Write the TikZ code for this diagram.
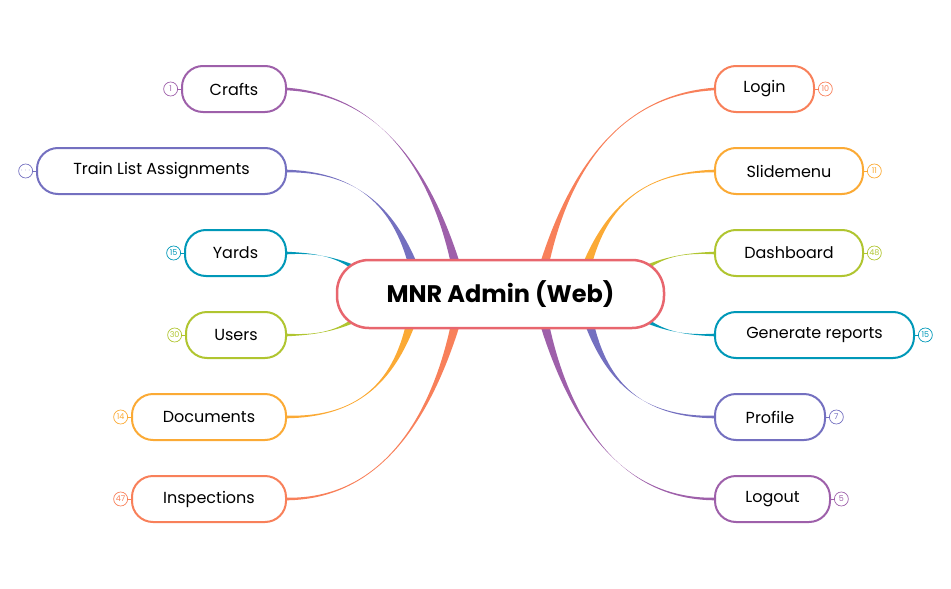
\documentclass[tikz,border=0pt]{standalone}
\usepackage{fontspec}
\setmainfont{Poppins}
\usetikzlibrary{positioning,calc}
\definecolor{cPurple}{HTML}{9E60AA}
\definecolor{cViolet}{HTML}{7470C0}
\definecolor{cTeal}{HTML}{0098B8}
\definecolor{cGreen}{HTML}{B0C530}
\definecolor{cOrange}{HTML}{FBAA35}
\definecolor{cCoral}{HTML}{F8805A}
\definecolor{cRed}{HTML}{E8666E}
\newcommand\branch[5]{% colour, start, ctrl1, ctrl2, end
\fill[#1] ($(#2)+(-4.5,0)$) .. controls #3 and #4 .. ($(#5)+(0,-1.3)$)
  -- ($(#5)+(0,1.3)$) .. controls #4 and #3 .. ($(#2)+(4.5,0)$) -- cycle;
}
\begin{document}
\begin{tikzpicture}[x=1pt,y=-1pt,
  topic/.style={draw=#1,line width=2pt,rounded corners=21pt,minimum height=46pt,
    font=\fontsize{16}{18}\selectfont,fill=white,inner xsep=10pt},
  badge/.style={draw=#1,circle,line width=0.7pt,minimum size=14pt,inner sep=0pt,
    text=#1,font=\fontsize{8}{8}\selectfont}]
  \useasboundingbox (0,0) rectangle (951,589);
  %% branches behind the nodes
  \branch{cPurple}{455,262}{(430,170)}{(380,95)}{287,89}
  \branch{cViolet}{412,262}{(390,200)}{(350,172)}{287,171}
  \branch{cTeal}{352,266}{(330,255)}{(310,253)}{287,253}
  \branch{cGreen}{352,322}{(330,333)}{(310,335)}{287,335}
  \branch{cOrange}{410,326}{(390,390)}{(350,417)}{287,417}
  \branch{cCoral}{455,326}{(430,420)}{(380,499)}{287,499}
  \branch{cCoral}{545,262}{(570,170)}{(620,95)}{714,89}
  \branch{cOrange}{588,262}{(610,200)}{(650,172)}{714,171}
  \branch{cGreen}{648,266}{(670,255)}{(690,253)}{714,253}
  \branch{cTeal}{648,322}{(670,333)}{(690,335)}{714,335}
  \branch{cViolet}{590,326}{(610,390)}{(650,417)}{714,417}
  \branch{cPurple}{545,326}{(570,420)}{(620,499)}{714,499}
  %% central topic
  \node[topic=cRed,line width=2.5pt,minimum width=327pt,minimum height=68pt,rounded corners=32pt,
    font=\fontsize{24}{28}\selectfont\bfseries] (main) at (500.5,294) {MNR Admin (Web)};
  %% left topics
  \node[topic=cPurple,minimum width=104pt,anchor=east] (crafts) at (287,89) {Crafts};
  \node[topic=cViolet,minimum width=249pt,anchor=east] (train) at (287,171) {Train List Assignments};
  \node[topic=cTeal,minimum width=101pt,anchor=east] (yards) at (287,253) {Yards};
  \node[topic=cGreen,minimum width=100pt,anchor=east] (users) at (287,335) {Users};
  \node[topic=cOrange,minimum width=154pt,anchor=east] (docs) at (287,417) {Documents};
  \node[topic=cCoral,minimum width=154pt,anchor=east] (insp) at (287,499) {Inspections};
  %% right topics
  \node[topic=cCoral,minimum width=99pt,anchor=west] (login) at (714,89) {Login};
  \node[topic=cOrange,minimum width=148pt,anchor=west] (slide) at (714,171) {Slidemenu};
  \node[topic=cGreen,minimum width=148pt,anchor=west] (dash) at (714,253) {Dashboard};
  \node[topic=cTeal,minimum width=199pt,anchor=west] (reports) at (714,335) {Generate reports};
  \node[topic=cViolet,minimum width=110pt,anchor=west] (profile) at (714,417) {Profile};
  \node[topic=cPurple,minimum width=115pt,anchor=west] (logout) at (714,499) {Logout};
  %% badges
  \node[badge=cPurple,left=3pt of crafts] (bcrafts) {1};
  \node[badge=cViolet,left=3pt of train] (btrain) {$\cdots$};
  \node[badge=cTeal,left=3pt of yards] (byards) {15};
  \node[badge=cGreen,left=3pt of users] (busers) {30};
  \node[badge=cOrange,left=3pt of docs] (bdocs) {14};
  \node[badge=cCoral,left=3pt of insp] (binsp) {47};
  \node[badge=cCoral,right=3pt of login] (blogin) {10};
  \node[badge=cOrange,right=3pt of slide] (bslide) {11};
  \node[badge=cGreen,right=3pt of dash] (bdash) {48};
  \node[badge=cTeal,right=3pt of reports] (breports) {15};
  \node[badge=cViolet,right=3pt of profile] (bprofile) {7};
  \node[badge=cPurple,right=3pt of logout] (blogout) {5};
  \foreach \a/\b/\c in {crafts/bcrafts/cPurple,train/btrain/cViolet,yards/byards/cTeal,
      users/busers/cGreen,docs/bdocs/cOrange,insp/binsp/cCoral,login/blogin/cCoral,
      slide/bslide/cOrange,dash/bdash/cGreen,reports/breports/cTeal,
      profile/bprofile/cViolet,logout/blogout/cPurple}
    \draw[\c,line width=1pt] (\a) -- (\b);
\end{tikzpicture}
\end{document}
